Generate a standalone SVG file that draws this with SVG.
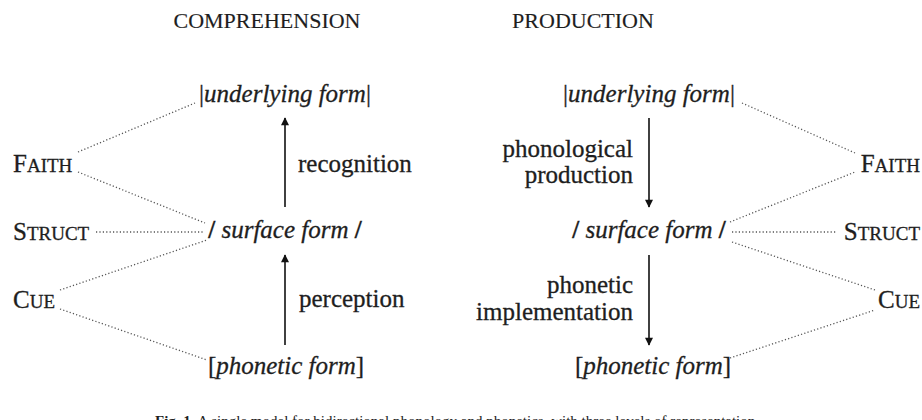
<svg xmlns="http://www.w3.org/2000/svg" width="922" height="420" viewBox="0 0 922 420">
<style>
text{font-family:"Liberation Serif","Times New Roman",serif;fill:#1e1e1e;stroke:#1e1e1e;stroke-width:0.3}
.t{font-size:22px;stroke-width:0.15}
.l{font-size:25px}
.i{font-size:25px;font-style:italic}
.sc{font-size:25px}
.sm{font-size:19px}
.b{font-style:normal;font-weight:bold}
.dot{stroke:#555;stroke-width:1.3;stroke-dasharray:1.2 2.2;fill:none}
.arr{stroke:#111;stroke-width:1.6;fill:none;marker-end:url(#ah)}
.cap{font-size:15px;stroke-width:0}
</style>
<defs>
<marker id="ah" viewBox="0 0 10 10" refX="9" refY="5" markerWidth="11" markerHeight="8" markerUnits="userSpaceOnUse" orient="auto">
<path d="M0,0 L10,5 L0,10 z" fill="#111"/>
</marker>
</defs>
<rect width="922" height="420" fill="#fff"/>
<g id="titles">
<text class="t" x="267" y="28" text-anchor="middle">COMPREHENSION</text>
<text class="t" x="583" y="28" text-anchor="middle">PRODUCTION</text>
</g>
<g id="connectors">
<line class="dot" x1="78" y1="152" x2="195" y2="103"/>
<line class="dot" x1="78" y1="172" x2="205" y2="223"/>
<line class="dot" x1="96" y1="232" x2="203" y2="232"/>
<line class="dot" x1="60" y1="290" x2="207" y2="240"/>
<line class="dot" x1="60" y1="309" x2="207" y2="360"/>
<line class="arr" x1="285" y1="207" x2="285" y2="118"/>
<line class="arr" x1="285" y1="345" x2="285" y2="255"/>
<line class="dot" x1="742" y1="103" x2="855" y2="153"/>
<line class="dot" x1="730" y1="222" x2="855" y2="172"/>
<line class="dot" x1="732" y1="232" x2="837" y2="232"/>
<line class="dot" x1="732" y1="242" x2="875" y2="290"/>
<line class="dot" x1="730" y1="358" x2="875" y2="310"/>
<line class="arr" x1="649" y1="118" x2="649" y2="207"/>
<line class="arr" x1="649" y1="255" x2="649" y2="345"/>
</g>
<g id="left-underlying"><text class="i" x="285" y="102" text-anchor="middle"><tspan font-style="normal">|</tspan>underlying form<tspan font-style="normal">|</tspan></text></g>
<g id="left-surface"><text class="i" x="285" y="238" text-anchor="middle"><tspan class="b">/</tspan> surface form <tspan class="b">/</tspan></text></g>
<g id="left-phonetic"><text class="i" x="286" y="374" text-anchor="middle"><tspan font-style="normal">[</tspan>phonetic form<tspan font-style="normal">]</tspan></text></g>
<g id="left-faith"><text class="sc" x="13" y="172">F<tspan class="sm">AITH</tspan></text></g>
<g id="left-struct"><text class="sc" x="13" y="240">S<tspan class="sm">TRUCT</tspan></text></g>
<g id="left-cue"><text class="sc" x="13" y="308">C<tspan class="sm">UE</tspan></text></g>
<g id="label-recognition"><text class="l" x="298" y="172">recognition</text></g>
<g id="label-perception"><text class="l" x="299" y="307">perception</text></g>
<g id="right-underlying"><text class="i" x="649" y="102" text-anchor="middle"><tspan font-style="normal">|</tspan>underlying form<tspan font-style="normal">|</tspan></text></g>
<g id="right-surface"><text class="i" x="649" y="238" text-anchor="middle"><tspan class="b">/</tspan> surface form <tspan class="b">/</tspan></text></g>
<g id="right-phonetic"><text class="i" x="653" y="374" text-anchor="middle"><tspan font-style="normal">[</tspan>phonetic form<tspan font-style="normal">]</tspan></text></g>
<g id="right-faith"><text class="sc" x="920" y="172" text-anchor="end">F<tspan class="sm">AITH</tspan></text></g>
<g id="right-struct"><text class="sc" x="920" y="240" text-anchor="end">S<tspan class="sm">TRUCT</tspan></text></g>
<g id="right-cue"><text class="sc" x="920" y="308" text-anchor="end">C<tspan class="sm">UE</tspan></text></g>
<g id="label-phonological"><text class="l" text-anchor="end"><tspan x="633" y="157">phonological</tspan><tspan x="633" y="183">production</tspan></text></g>
<g id="label-phonetic"><text class="l" text-anchor="end"><tspan x="633" y="293">phonetic</tspan><tspan x="633" y="320">implementation</tspan></text></g>
<g id="caption"><text class="cap" x="155" y="426"><tspan font-weight="bold">Fig. 1.</tspan> A single model for bidirectional phonology and phonetics, with three levels of representation</text></g>
</svg>
